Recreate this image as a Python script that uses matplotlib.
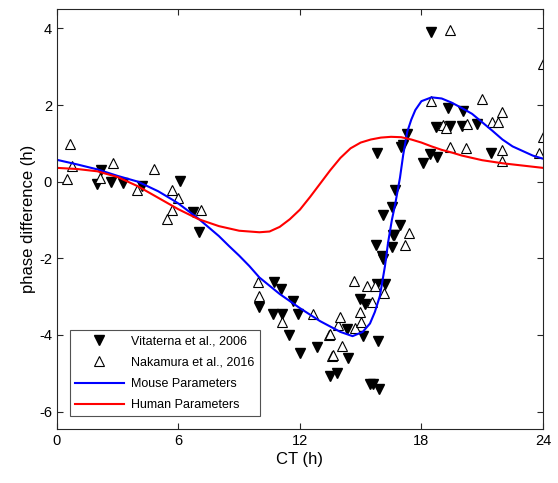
"""Phase difference vs circadian time, data and model fits"""
import numpy as np
import matplotlib
matplotlib.use("Agg")
import matplotlib.pyplot as plt

# -----------------------------------------------------------------------------
# Data

# Vitaterna et al., 2006
vit_ct = [2.0, 2.2, 2.67, 3.26, 4.2, 6.07, 6.7, 7.0,
          9.98, 10.67, 10.7, 11.06, 11.1, 11.46, 11.65, 11.9, 12.0, 12.84,
          13.48, 13.83, 14.3, 14.37, 14.96, 15.1, 15.2, 15.46, 15.6, 15.85,
          15.9, 15.75, 15.8, 16.05, 16.1, 16.2, 16.54, 16.6, 16.64, 16.7,
          16.94, 16.54, 16.1, 17.0, 17.1, 17.28, 15.8,
          18.07, 18.42, 18.77, 18.47, 18.7, 19.3, 19.4, 20.0, 20.05, 20.74,
          21.43]
vit_dphi = [-0.05, 0.31, 0.0, -0.03, -0.1, 0.03, -0.78, -1.32,
            -3.27, -3.45, -2.62, -2.8, -3.45, -4.0, -3.12, -3.45, -4.47, -4.31,
            -5.06, -5.0, -3.85, -4.6, -3.05, -4.02, -3.2, -5.27, -5.27, -4.15,
            -5.4, -1.66, -2.68, -1.95, -2.03, -2.68, -1.71, -1.38, -1.38, -0.23,
            -1.14, -0.65, -0.87, 0.9, 0.96, 1.25, 0.74,
            0.49, 0.73, 0.65, 3.9, 1.43, 1.92, 1.45, 1.45, 1.85, 1.5,
            0.75]

# Nakamura et al., 2016
nak_ct = [0.64, 0.74, 0.49, 2.77, 2.12, 3.95, 4.79, 5.68, 5.98, 5.68, 5.45,
          7.1, 9.93, 10.0, 11.1, 12.64, 13.43, 13.48, 13.6, 13.63, 13.9,
          14.0, 14.07, 14.67, 14.7, 14.96, 15.0, 15.3, 15.56, 15.7, 16.15,
          17.2, 17.4, 18.47, 19.07, 19.2, 19.4, 19.4, 20.2, 20.25, 21.0,
          21.5, 21.8, 22.0, 22.0, 22.0, 23.8, 24.0, 24.0]
nak_dphi = [0.99, 0.42, 0.08, 0.49, 0.1, -0.23, 0.34, -0.21, -0.42, -0.75,
            -0.97, -0.73, -2.62, -2.98, -3.66, -3.44, -4.0, -3.97, -4.55,
            -4.52, -3.74, -3.53, -4.28, -2.6, -3.82, -3.4, -3.66, -2.73,
            -3.14, -2.73, -2.91, -1.66, -1.33, 2.1, 1.48, 1.4, 3.95, 0.91,
            0.88, 1.5, 2.15, 1.56, 1.56, 1.82, 0.83, 0.55, 0.75, 3.06, 1.17]

# Model curve, mouse parameters
mouse_ct = [0, 1, 2, 3, 4, 5, 5.7, 6, 7, 8, 8.5, 9, 9.5, 10, 11, 12, 13, 14,
            14.6, 15.1, 15.46, 15.7, 15.95, 16.2, 16.35, 16.54, 16.7, 16.94,
            17.1, 17.3, 17.5, 17.7, 18.0, 18.5, 19.0, 19.5, 20.0, 20.5, 21.0,
            21.5, 22.0, 22.5, 23.0, 23.5, 24]
mouse_dphi = [0.57, 0.45, 0.32, 0.15, 0.0, -0.25, -0.47, -0.57, -0.97,
              -1.42, -1.68, -1.93, -2.2, -2.5, -2.93, -3.3, -3.64, -3.92,
              -4.03, -3.92, -3.7, -3.4, -2.98, -2.2, -1.6, -1.0, -0.6, 0.1,
              0.7, 1.3, 1.62, 1.87, 2.1, 2.2, 2.17, 2.06, 1.92, 1.77, 1.55,
              1.33, 1.1, 0.92, 0.8, 0.68, 0.6]

# Model curve, human parameters
human_ct = [0, 1, 2, 3, 4, 5, 6, 7, 8, 9, 10, 10.5, 11, 11.5, 12, 12.5, 13,
            13.5, 14, 14.5, 15, 15.5, 16, 16.5, 17, 17.5, 18, 18.5, 19, 19.5,
            20, 21, 22, 23, 24]
human_dphi = [0.36, 0.33, 0.27, 0.12, -0.12, -0.42, -0.72, -0.98, -1.16,
              -1.28, -1.32, -1.3, -1.18, -0.98, -0.73, -0.4, -0.05, 0.3, 0.62,
              0.87, 1.02, 1.1, 1.15, 1.17, 1.16, 1.1, 1.02, 0.92, 0.83, 0.76,
              0.68, 0.56, 0.48, 0.42, 0.36]

xticks = [0, 6, 12, 18, 24]
yticks = [-6, -4, -2, 0, 2, 4]

# -----------------------------------------------------------------------------
# Plot

plt.rcParams['font.family'] = ['Liberation Sans', 'DejaVu Sans']
plt.rcParams['axes.unicode_minus'] = False
axcol = '#262626'

fig = plt.figure(figsize=(5.58, 4.83), dpi=100)
ax = fig.add_axes([0.102, 0.112, 0.871, 0.869])

ax.plot(vit_ct, vit_dphi, linestyle='none', marker='v', markersize=7.5,
        color='black', markeredgecolor='black', label='Vitaterna et al., 2006')
ax.plot(nak_ct, nak_dphi, linestyle='none', marker='^', markersize=7.5,
        markerfacecolor='white', markeredgecolor='black', markeredgewidth=0.8,
        label='Nakamura et al., 2016')
ax.plot(mouse_ct, mouse_dphi, color='#0000ff', linewidth=1.5,
        label='Mouse Parameters')
ax.plot(human_ct, human_dphi, color='#ff0000', linewidth=1.5,
        label='Human Parameters')

ax.set_xlim(0, 24)
ax.set_ylim(-6.45, 4.5)
ax.set_xticks(xticks)
ax.set_yticks(yticks)
ax.tick_params(direction='in', length=4, width=0.8, colors=axcol,
               labelcolor='black', labelsize=10.5, top=True, right=True)
for sp in ax.spines.values():
    sp.set_color(axcol)
    sp.set_linewidth(0.8)

ax.set_xlabel('CT (h)', fontsize=12, labelpad=3)
ax.set_ylabel('phase difference (h)', fontsize=12, labelpad=2)

leg = ax.legend(loc='lower left', bbox_to_anchor=(0.027, 0.03), fontsize=9,
                frameon=True, fancybox=False, borderpad=0.4, labelspacing=0.75,
                handlelength=3.9, handletextpad=0.6, borderaxespad=0)
leg.get_frame().set_edgecolor(axcol)
leg.get_frame().set_linewidth(0.8)

fig.savefig('out.png', dpi=100)
